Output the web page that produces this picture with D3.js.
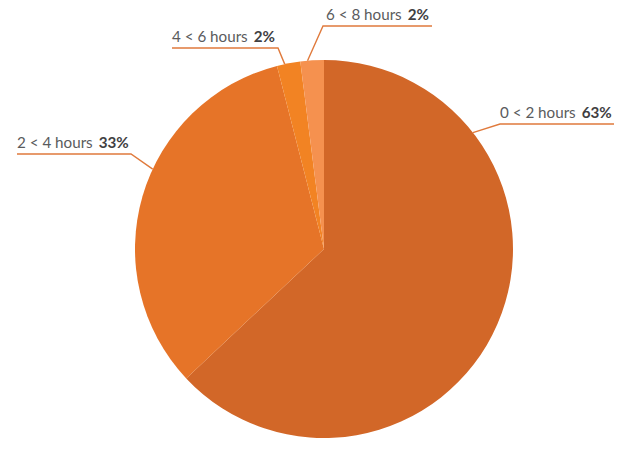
<!DOCTYPE html>
<html>
<head>
<meta charset="utf-8">
<script src="https://cdn.jsdelivr.net/npm/d3@7"></script>
<style>
  body { margin: 0; background: #fff; }
  svg { display: block; }
</style>
</head>
<body>
<svg width="639" height="449"></svg>
<script>
// Data
const categories = ['0 < 2 hours', '2 < 4 hours', '4 < 6 hours', '6 < 8 hours'];
const shares = [63, 33, 2, 2];
const shareLabels = ['63%', '33%', '2%', '2%'];
const colours = ['#D26728', '#E67428', '#F28323', '#F5914F'];

// Layout of the call-outs (angle on the rim in degrees, text anchor, line end)
const callouts = [
  { angle: 52, x: 500, y: 124, x2: 614, side: 'right' },
  { angle: 295, x: 17, y: 154, x2: 131, side: 'left' },
  { angle: 348, x: 172, y: 48, x2: 278, side: 'left' },
  { angle: 355, x: 326, y: 26, x2: 432, side: 'rightTop' }
];

let svg = d3.select('svg');
const cx = 324, cy = 249, radius = 189;

const pie = d3.pie().sort(null).value(d => d);
const arc = d3.arc().innerRadius(0).outerRadius(radius);
const arcs = pie(shares);

let g = svg.append('g').attr('transform', `translate(${cx},${cy})`);

g.selectAll('path')
  .data(arcs)
  .enter().append('path')
  .attr('d', arc)
  .attr('fill', (d, i) => colours[i]);

// Call-out lines
const rad = Math.PI / 180;
callouts.forEach((c, i) => {
  const a = c.angle * rad;
  const px = cx + Math.sin(a) * radius;
  const py = cy - Math.cos(a) * radius;
  let pts;
  if (c.side === 'right') {
    pts = [[px, py], [c.x, c.y], [c.x2, c.y]];
  } else if (c.side === 'left') {
    pts = [[c.x, c.y], [c.x2, c.y], [px, py]];
  } else {
    pts = [[px, py], [c.x - 3, c.y], [c.x2, c.y]];
  }
  svg.append('path')
    .attr('d', d3.line()(pts))
    .attr('fill', 'none')
    .attr('stroke', '#E07A3C')
    .attr('stroke-width', 1.4);

  const t = svg.append('text')
    .attr('x', c.x)
    .attr('y', c.y - 6)
    .attr('font-family', 'Lato, "Open Sans", sans-serif')
    .attr('font-size', 15.2)
    .attr('fill', '#5A5B5D');
  t.append('tspan').text(categories[i]);
  t.append('tspan')
    .attr('dx', 6)
    .attr('font-weight', 'bold')
    .attr('fill', '#414042')
    .text(shareLabels[i]);
});
</script>
</body>
</html>
